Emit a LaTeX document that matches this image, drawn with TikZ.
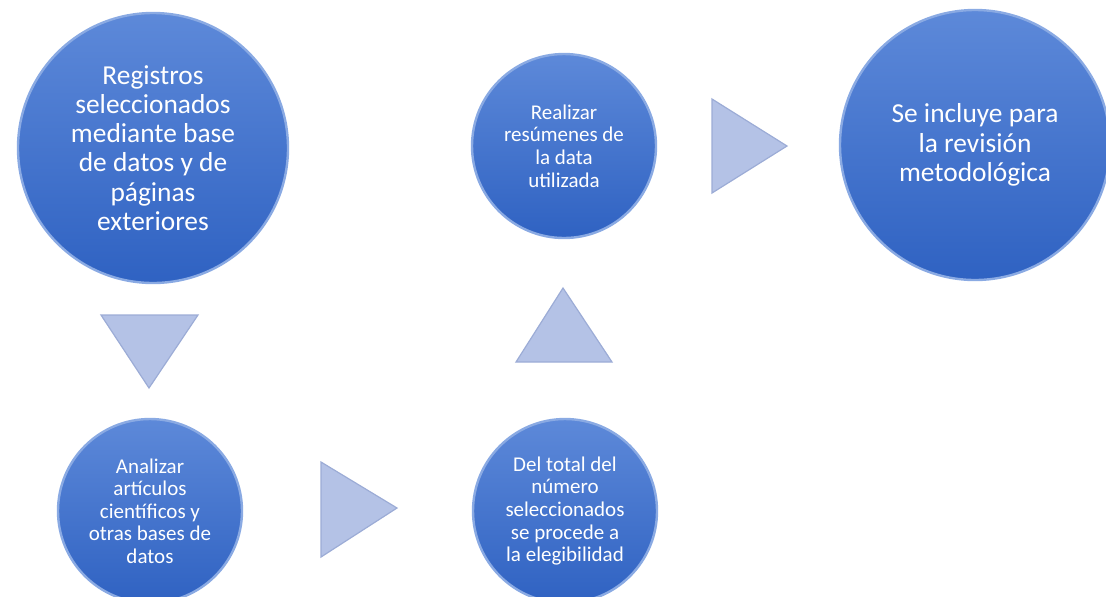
\documentclass[tikz,border=0pt]{standalone}
\usepackage{fontspec}
\setmainfont{Carlito}
\usetikzlibrary{positioning}
\definecolor{circtop}{HTML}{5D89D9}
\definecolor{circbot}{HTML}{2F62C2}
\definecolor{circrim}{HTML}{8AAAE3}
\definecolor{trifill}{HTML}{B4C2E6}
\definecolor{triline}{HTML}{9CACD6}
\tikzset{
  stage/.style={circle,inner sep=0pt,outer sep=0pt,top color=circtop,bottom color=circbot,
    draw=circrim,line width=1.2pt,text=white,align=center},
  bigstage/.style={stage,minimum size=135pt,font=\fontsize{13.7}{14.6}\selectfont},
  smallstage/.style={stage,minimum size=92pt,font=\fontsize{10.5}{11.3}\selectfont},
  tri/.style={fill=trifill,draw=triline,line width=0.6pt,line join=miter}
}
\begin{document}
\begin{tikzpicture}[x=0.5pt,y=-0.5pt]
    \useasboundingbox (0,0) rectangle (1106,596);

    \node[bigstage] (REG) at (153,148) {Registros\\seleccionados\\mediante base\\de datos y de\\páginas\\exteriores};
    \node[smallstage] (ANA) at (150,511) {Analizar\\artículos\\científicos y\\otras bases de\\datos};
    \node[smallstage] (ELEG) at (565,511) {Del total del\\número\\seleccionados\\se procede a\\la elegibilidad};
    \node[smallstage] (RES) at (564,146) {Realizar\\resúmenes de\\la data\\utilizada};
    \node[bigstage] (INC) at (975,145) {Se incluye para\\la revisión\\metodológica};

    \draw[tri] (101,315) -- (198,315) -- (149,388) -- cycle;
    \draw[tri] (321,462) -- (397,508) -- (321,557) -- cycle;
    \draw[tri] (563,288) -- (612,362) -- (516,362) -- cycle;
    \draw[tri] (712,99) -- (787,146) -- (712,193) -- cycle;
  \end{tikzpicture}
\end{document}
